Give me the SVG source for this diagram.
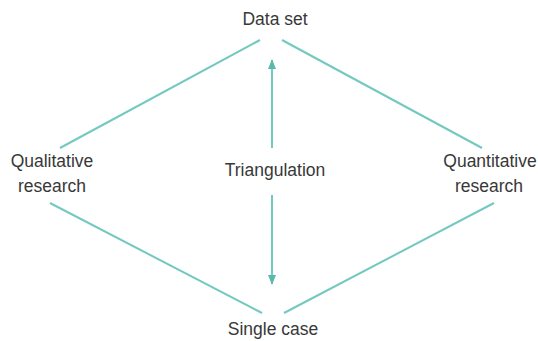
<svg xmlns="http://www.w3.org/2000/svg" width="538" height="341" viewBox="0 0 538 341">
<style>
.t{font-family:"Liberation Sans",Arial,sans-serif;font-size:17.5px;fill:#383838;text-anchor:middle}
.c{stroke:#72c9bf;stroke-width:2;fill:none}
</style>
<defs>
<marker id="ah" viewBox="0 0 10 10" refX="9" refY="5" markerWidth="5" markerHeight="5" orient="auto-start-reverse">
<path d="M0,1 L10,5 L0,9 Z" fill="#5bb8ad"/>
</marker>
</defs>
<rect width="538" height="341" fill="#fff"/>
<g id="connectors">
<line class="c" x1="260" y1="40" x2="60" y2="148"/>
<line class="c" x1="282" y1="40" x2="482" y2="148"/>
<line class="c" x1="50" y1="203" x2="262" y2="313"/>
<line class="c" x1="284" y1="313" x2="494" y2="203"/>
<line class="c" x1="272" y1="148" x2="272" y2="60" marker-end="url(#ah)"/>
<line class="c" x1="272" y1="195" x2="272" y2="284" marker-end="url(#ah)"/>
</g>
<g id="dataset"><text class="t" x="275" y="25">Data set</text></g>
<g id="qualitative"><text class="t" x="52" y="167">Qualitative</text><text class="t" x="52" y="192">research</text></g>
<g id="triangulation"><text class="t" x="275" y="176">Triangulation</text></g>
<g id="quantitative"><text class="t" x="490" y="167">Quantitative</text><text class="t" x="489" y="192">research</text></g>
<g id="singlecase"><text class="t" x="273" y="335">Single case</text></g>
</svg>
